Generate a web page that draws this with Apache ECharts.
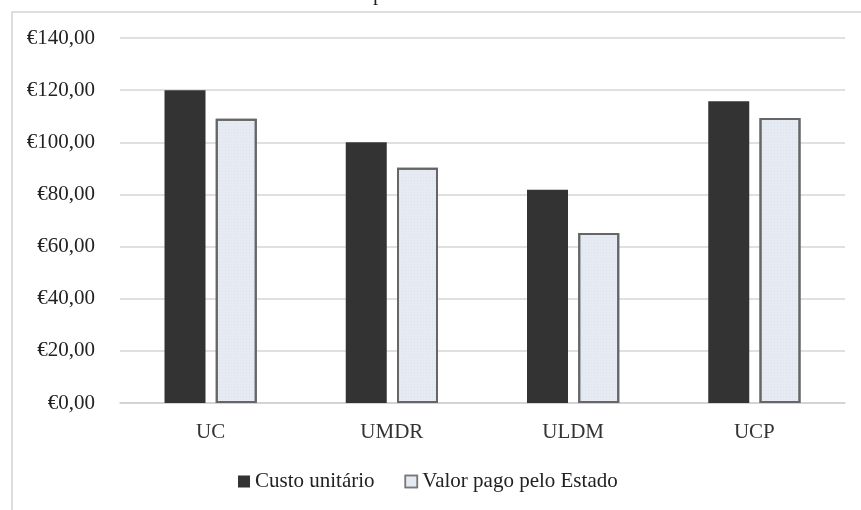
<!DOCTYPE html>
<html>
<head>
<meta charset="utf-8">
<script src="https://cdn.jsdelivr.net/npm/echarts@6/dist/echarts.min.js"></script>
<style>html,body{margin:0;padding:0;background:#fff}#c{width:861px;height:510px}</style>
</head>
<body>
<div id="c"></div>
<script>
var categories = ['UC', 'UMDR', 'ULDM', 'UCP'];
var custoUnitario = [120.0, 100.0, 81.8, 115.7];
var valorPago = [109.0, 90.2, 65.2, 109.3];
var seriesNames = ['Custo unitário', 'Valor pago pelo Estado'];
var yTicks = [0, 20, 40, 60, 80, 100, 120, 140];

var FONT = 'Liberation Serif';
var FS = 21;
var chart = echarts.init(document.getElementById('c'));
chart.setOption({
  backgroundColor: '#fff',
  animation: false,
  textStyle: { fontFamily: FONT },
  graphic: [
    { type: 'rect', shape: { x: 12, y: 12, width: 900, height: 600 }, style: { fill: 'none', stroke: '#d4d4d4', lineWidth: 1.5 }, z: -1 },
    { type: 'text', left: 373, top: -16, style: { text: 'p', font: '21px "Liberation Serif"', fill: '#222' } }
  ],
  grid: { left: 120, right: 16, top: 38, bottom: 107 },
  legend: {
    left: 233, top: 466,
    itemWidth: 12, itemHeight: 12, itemGap: 30,
    textStyle: { fontFamily: FONT, fontSize: FS, color: '#222' },
    data: [
      { name: seriesNames[0], icon: 'rect' },
      { name: seriesNames[1], icon: 'rect', itemStyle: { color: '#e6ebf3', borderColor: '#777', borderWidth: 1.5 } }
    ]
  },
  xAxis: {
    type: 'category',
    data: categories,
    axisTick: { show: false },
    axisLine: { lineStyle: { color: '#d0d0d0', width: 1.5 } },
    axisLabel: { fontFamily: FONT, fontSize: FS, color: '#333', margin: 19 }
  },
  yAxis: {
    type: 'value',
    min: yTicks[0], max: yTicks[yTicks.length - 1], interval: 20,
    axisLine: { show: false },
    axisTick: { show: false },
    splitLine: { lineStyle: { color: '#d6d6d6', width: 1.5 } },
    axisLabel: {
      fontFamily: FONT, fontSize: FS, color: '#222', margin: 25,
      formatter: function (v) { return '€' + v.toFixed(2).replace('.', ','); }
    }
  },
  series: [
    {
      name: seriesNames[0], type: 'bar', data: custoUnitario,
      barWidth: 41, barGap: '25%',
      itemStyle: { color: '#333333' }
    },
    {
      name: seriesNames[1], type: 'bar', data: valorPago,
      barWidth: 41,
      itemStyle: {
        color: '#e6ebf3', borderColor: '#666', borderWidth: 2,
        decal: { symbol: 'rect', symbolSize: 0.6, dashArrayX: [1, 2], dashArrayY: [1, 2], color: 'rgba(150,160,180,0.35)' }
      }
    }
  ]
});
</script>
</body>
</html>
